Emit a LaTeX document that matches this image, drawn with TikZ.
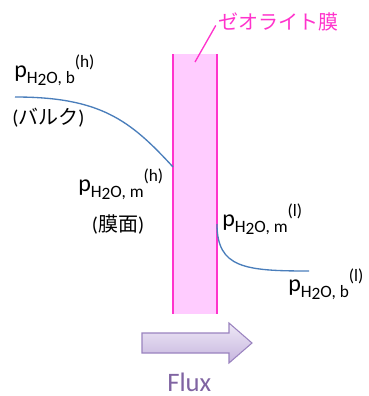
\documentclass[tikz,border=0pt]{standalone}
\usepackage{fontspec}
\setmainfont{Carlito}
\newfontfamily\jpfont{Noto Sans CJK JP}
\usetikzlibrary{positioning}

\definecolor{membranefill}{HTML}{FFCCFF}
\definecolor{membraneedge}{HTML}{FF33CC}
\definecolor{profileblue}{HTML}{4A7EBB}
\definecolor{fluxedge}{HTML}{9A83BF}
\definecolor{fluxtop}{HTML}{EEE8F6}
\definecolor{fluxbottom}{HTML}{C6B5DE}
\definecolor{fluxtext}{HTML}{8064A2}

% partial pressure of water, #1 = b/m, #2 = h/l
\newcommand{\ppwater}[2]{p\raisebox{-4.5pt}{\fontsize{13}{15}\selectfont H\raisebox{-1.5pt}{2}O, #1}\raisebox{7pt}{\fontsize{13}{15}\selectfont (#2)}}

\begin{document}
\begin{tikzpicture}[x=0.75pt, y=-0.75pt,
    lbl/.style={inner sep=0pt, font=\fontsize{18}{20}\selectfont},
    jplbl/.style={inner sep=0pt, font=\fontsize{15}{17}\selectfont},
    profile/.style={profileblue, line width=1pt},
    wall/.style={membraneedge, line width=1.2pt}]

    \useasboundingbox (0,0) rectangle (368,396);

    % membrane
    \fill[membranefill] (173,54) rectangle (217,314);
    \draw[wall] (173,54) -- (173,314);
    \draw[wall] (217,54) -- (217,314);

    \node[jplbl, text=membraneedge] (zeolite) at (278,22) {\jpfont ゼオライト膜};
    \coordinate (lead) at (195,62);
    \draw[membraneedge, line width=1pt, shorten <=3pt] (zeolite.west) -- (lead);

    % profiles
    \coordinate (bulkh) at (15,97);
    \coordinate (memh) at (173,167);
    \coordinate (meml) at (217,224);
    \coordinate (bulkl) at (309,271);

    \draw[profile] (bulkh) .. controls (100,97) and (130,120) .. (memh);
    \draw[profile] (meml) .. controls (217,268) and (245,271) .. (bulkl);

    % labels
    \node[lbl, anchor=base west] (pbh) at (14,77) {\ppwater{b}{h}};
    \node[jplbl, anchor=west] (bulk) at (12,118) {(\jpfont バルク\rmfamily)};

    \node[lbl, anchor=base west] (pmh) at (78,191) {\ppwater{m}{h}};
    \node[jplbl] (surf) at (118,224) {(\jpfont 膜面\rmfamily)};

    \node[lbl, anchor=base west] (pml) at (222,226) {\ppwater{m}{l}};
    \node[lbl, anchor=base west] (pbl) at (288,291) {\ppwater{b}{l}};

    % flux arrow
    \shade[top color=fluxtop, bottom color=fluxbottom, draw=fluxedge, line width=0.8pt]
        (142,333) -- (229,333) -- (229,323) -- (252,343) -- (229,363) -- (229,353) -- (142,353) -- cycle;
    \node[inner sep=0pt, anchor=base west, text=fluxtext, font=\fontsize{20}{24}\selectfont] (flux) at (167,391) {Flux};

\end{tikzpicture}
\end{document}
